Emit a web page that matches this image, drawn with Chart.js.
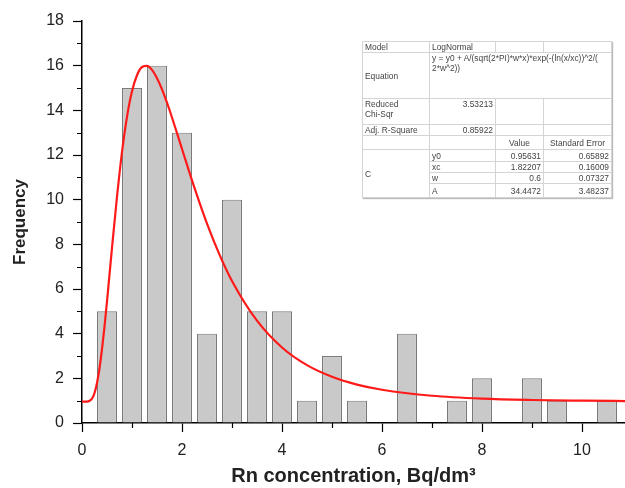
<!DOCTYPE html>
<html>
<head>
<meta charset="utf-8">
<script src="https://cdn.jsdelivr.net/npm/chart.js@4"></script>
<style>
  html, body { margin: 0; padding: 0; background: #fff; }
  #wrap { position: relative; width: 625px; height: 488px; }
  #c { position: absolute; left: 0; top: 0; }
  #fit {
    position: absolute; left: 362px; top: 41px;
    border-collapse: collapse; background: #fff;
    font-family: "Liberation Sans", Arial, sans-serif; font-size: 8.4px; color: #444;
    border: 1px solid #9a9a9a; box-shadow: 1px 1px 1px #bbb;
    table-layout: fixed;
  }
  #fit td { border: 1px solid #d4d4d4; padding: 0 2px; line-height: 10px; white-space: nowrap; overflow: visible; vertical-align: middle; }
  #fit td.r { text-align: right; }
  #fit td.ctr { text-align: center; }
  #fit td.top { vertical-align: top; }
</style>
</head>
<body>
<div id="wrap">
  <canvas id="c" width="625" height="488"></canvas>
  <table id="fit">
    <colgroup><col style="width:67px"><col style="width:66px"><col style="width:48px"><col style="width:68px"></colgroup>
    <tr style="height:11px"><td>Model</td><td>LogNormal</td><td></td><td></td></tr>
    <tr style="height:46px"><td>Equation</td><td colspan="3" class="top">y = y0 + A/(sqrt(2*PI)*w*x)*exp(-(ln(x/xc))^2/(<br>2*w^2))</td></tr>
    <tr style="height:26px"><td class="top">Reduced<br>Chi-Sqr</td><td class="r top">3.53213</td><td></td><td></td></tr>
    <tr style="height:11px"><td>Adj. R-Square</td><td class="r">0.85922</td><td></td><td></td></tr>
    <tr style="height:14px"><td></td><td></td><td class="ctr">Value</td><td class="ctr">Standard Error</td></tr>
    <tr style="height:12px"><td rowspan="4">C</td><td>y0</td><td class="r">0.95631</td><td class="r">0.65892</td></tr>
    <tr style="height:11px"><td>xc</td><td class="r">1.82207</td><td class="r">0.16009</td></tr>
    <tr style="height:11px"><td>w</td><td class="r">0.6</td><td class="r">0.07327</td></tr>
    <tr style="height:14px"><td>A</td><td class="r">34.4472</td><td class="r">3.48237</td></tr>
  </table>
</div>
<script>
// Histogram bins (centre of each bin) and counts
const binCenters = [0.5, 1.0, 1.5, 2.0, 2.5, 3.0, 3.5, 4.0, 4.5, 5.0, 5.5, 6.0, 6.5, 7.0, 7.5, 8.0, 8.5, 9.0, 9.5, 10.0, 10.5];
const frequencies = [5, 15, 16, 13, 4, 10, 5, 5, 1, 3, 1, 0, 4, 0, 1, 2, 0, 2, 1, 0, 1];

// LogNormal fit curve
const fitX = [0, 0.1, 0.2, 0.25, 0.3, 0.35, 0.4, 0.45, 0.5, 0.6, 0.7, 0.8, 0.9, 1.0, 1.1, 1.2, 1.3, 1.4, 1.5, 1.6, 1.7, 1.8, 2.0, 2.25, 2.5, 2.75, 3.0, 3.5, 4.0, 4.5, 5.0, 5.5, 6.0, 7.0, 8.0, 9.0, 10.0, 11.0];
const fitY = [0.96, 0.96, 1.09, 1.34, 1.79, 2.45, 3.31, 4.32, 5.45, 7.84, 10.13, 12.13, 13.71, 14.85, 15.57, 15.94, 15.99, 15.81, 15.44, 14.94, 14.34, 13.68, 12.27, 10.53, 8.93, 7.54, 6.36, 4.58, 3.38, 2.59, 2.07, 1.72, 1.49, 1.22, 1.09, 1.03, 1.00, 0.98];

// Axis ticks
const xMajorTicks = [0, 2, 4, 6, 8, 10];
const xMinorTicks = [1, 3, 5, 7, 9];
const yMajorTicks = [0, 2, 4, 6, 8, 10, 12, 14, 16, 18];
const yMinorTicks = [1, 3, 5, 7, 9, 11, 13, 15, 17];

const xTitle = 'Rn concentration, Bq/dm\u00B3';
const yTitle = 'Frequency';

const FONT = '"Liberation Sans", Arial, sans-serif';

const minorTicks = {
  id: 'minorTicks',
  afterDraw(chart) {
    const ctx = chart.ctx;
    const xs = chart.scales.x, ys = chart.scales.y;
    ctx.save();
    ctx.strokeStyle = '#000';
    ctx.lineWidth = 1.2;
    ctx.beginPath();
    xMinorTicks.forEach(v => {
      const px = Math.round(xs.getPixelForValue(v)) + 0.5;
      ctx.moveTo(px, xs.top);
      ctx.lineTo(px, xs.top + 5);
    });
    yMinorTicks.forEach(v => {
      const py = Math.round(ys.getPixelForValue(v)) + 0.5;
      ctx.moveTo(ys.right, py);
      ctx.lineTo(ys.right - 5, py);
    });
    ctx.stroke();
    ctx.restore();
  }
};

new Chart(document.getElementById('c'), {
  data: {
    datasets: [
      {
        type: 'line',
        data: fitX.map((x, i) => ({ x: x, y: fitY[i] })),
        borderColor: '#ff1a1a',
        borderWidth: 2.2,
        pointRadius: 0,
        cubicInterpolationMode: 'monotone',
        fill: false,
        order: 1
      },
      {
        type: 'bar',
        data: binCenters.map((x, i) => ({ x: x, y: frequencies[i] })),
        backgroundColor: '#c9c9c9',
        borderColor: '#7a7a7a',
        borderWidth: 1.2,
        barPercentage: 0.8,
        categoryPercentage: 1.0,
        order: 2
      }
    ]
  },
  options: {
    responsive: false,
    animation: false,
    devicePixelRatio: 1,
    layout: { padding: { left: 0, right: 0, top: 21, bottom: 0 } },
    plugins: { legend: { display: false }, tooltip: { enabled: false } },
    scales: {
      x: {
        type: 'linear',
        offset: false,
        min: 0,
        max: 10.86,
        afterBuildTicks: s => { s.ticks = xMajorTicks.map(v => ({ value: v })); },
        ticks: { font: { family: FONT, size: 16 }, color: '#222', padding: 9, maxRotation: 0, includeBounds: false },
        grid: { offset: false, drawOnChartArea: false, drawTicks: true, tickLength: 9, tickColor: '#000', tickWidth: 1.2 },
        border: { color: '#000', width: 1.5 },
        title: { display: true, text: xTitle, font: { family: FONT, size: 20, weight: 'bold' }, color: '#222', padding: { top: 0, bottom: 0 } },
        afterFit: s => { s.height = 65; }
      },
      y: {
        min: 0,
        max: 18,
        afterBuildTicks: s => { s.ticks = yMajorTicks.map(v => ({ value: v })); },
        ticks: { font: { family: FONT, size: 16 }, color: '#222', padding: 9 },
        grid: { drawOnChartArea: false, drawTicks: true, tickLength: 9, tickColor: '#000', tickWidth: 1.2 },
        border: { color: '#000', width: 1.5 },
        title: { display: true, text: yTitle, font: { family: FONT, size: 17, weight: 'bold' }, color: '#222', padding: { top: 10, bottom: 4 } },
        afterFit: s => { s.width = 82; }
      }
    }
  },
  plugins: [minorTicks]
});
</script>
</body>
</html>
